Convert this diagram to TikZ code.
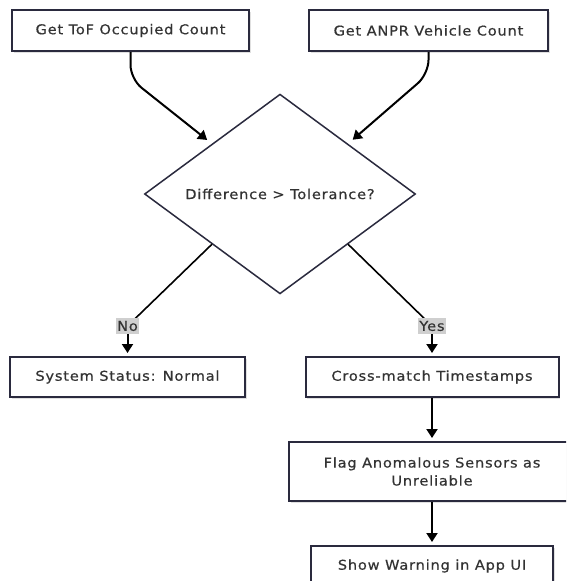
\documentclass[tikz,border=0pt]{standalone}
\usepackage{fontspec}
\setmainfont[LetterSpace=6, FakeStretch=1.08, FakeBold=0.5]{DejaVu Sans}
\usetikzlibrary{arrows.meta,shapes.geometric,shadows}
\definecolor{boxink}{HTML}{2A2A3E}
\definecolor{textink}{HTML}{333333}
\definecolor{tagfill}{HTML}{CFCFCF}
\tikzset{
  procbox/.style={draw=boxink, line width=2pt, fill=white, text=textink,
    font=\fontsize{13.5}{18}\selectfont, align=center, inner sep=0pt,
    drop shadow={shadow xshift=1.5pt, shadow yshift=-1.5pt, fill=black!12, opacity=1}},
  decision/.style={diamond, draw=boxink, line width=1.5pt, fill=white, text=textink,
    font=\fontsize{13.5}{18}\selectfont, inner sep=0pt,
    minimum width=271pt, minimum height=199pt},
  flow/.style={draw=black, line width=2pt, rounded corners=14pt,
    -{Triangle[width=11pt,length=9pt]}},
  branch/.style={draw=black, line width=1.6pt},
  tag/.style={fill=tagfill, text=textink, inner xsep=1.5pt, inner ysep=3pt,
    font=\fontsize{13.5}{16}\selectfont}
}
\begin{document}
\begin{tikzpicture}[x=1pt, y=-1pt]
\useasboundingbox (0,0) rectangle (566,581);
\clip (0,0) rectangle (566,581);

% process boxes
\node[procbox, minimum width=237pt, minimum height=41pt] (tof)  at (130.5,30.5) {Get ToF Occupied Count};
\node[procbox, minimum width=239pt, minimum height=41pt] (anpr) at (428.5,30.5) {Get ANPR Vehicle Count};
\node[decision] (diff) at (280,194) {Difference > Tolerance?};
\node[procbox, minimum width=235pt, minimum height=40pt] (normal) at (127.5,377) {System Status: Normal};
\node[procbox, minimum width=253pt, minimum height=40pt] (xmatch) at (432,377) {Cross-match Timestamps};
\node[procbox, minimum width=286pt, minimum height=59pt] (flag) at (432,471.5) {Flag Anomalous Sensors as\\Unreliable};
\node[procbox, minimum width=242pt, minimum height=40pt] (warn) at (432,566) {Show Warning in App UI};

% inputs into the decision
\draw[flow, shorten >=6pt] (tof.south) -- ++(0,27) -- (diff.north west);
\draw[flow, shorten >=6pt] (anpr.south) -- ++(0,22) -- (diff.north east);

% branches
\coordinate (nobend) at (127.5,326);
\coordinate (yesbend) at (432,326);
\draw[branch] (diff.south west) -- (nobend);
\draw[branch] (diff.south east) -- (yesbend);
\draw[flow, shorten >=3pt] (nobend) -- (normal.north);
\draw[flow, shorten >=3pt] (yesbend) -- (xmatch.north);
\node[tag] (notag) at (nobend) {No};
\node[tag] (yestag) at (yesbend) {Yes};

% follow-up chain
\draw[flow, shorten >=3pt] (xmatch.south) -- (flag.north);
\draw[flow, shorten >=3pt] (flag.south) -- (warn.north);
\end{tikzpicture}
\end{document}
